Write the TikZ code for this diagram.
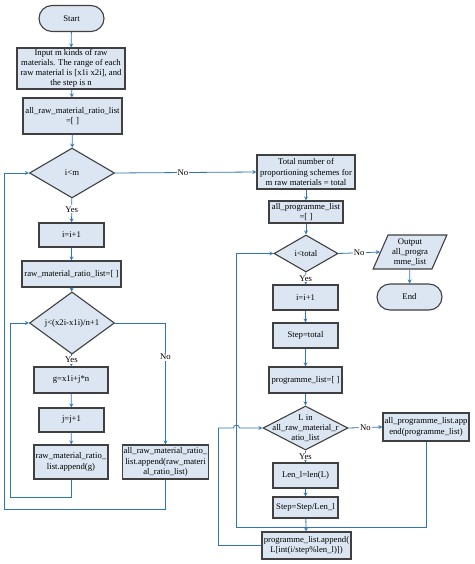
\documentclass[tikz,border=0pt]{standalone}
\usepackage{fontspec}
\setmainfont{Liberation Serif}
\usepackage{xcolor}
\usepackage{tikz}
\usetikzlibrary{shapes,arrows,positioning}

\definecolor{boxfill}{HTML}{DCE6F2}
\definecolor{boxline}{HTML}{404040}
\definecolor{flow}{HTML}{2E75B6}

% text that may stick out of its diamond
\newcommand{\wide}[1]{\makebox[0pt]{\smash{\raisebox{-2.8pt}{\begin{tabular}{@{}c@{}}#1\end{tabular}}}}}

\begin{document}
\begin{tikzpicture}[
    x=1pt, y=-1pt,
    font=\fontsize{8.7}{10.2}\selectfont,
    box/.style={rectangle, draw=boxline, fill=boxfill, line width=1.1pt, align=center, inner sep=1pt},
    terminal/.style={box, rounded corners=13pt},
    decision/.style={diamond, draw=boxline, fill=boxfill, line width=1.1pt, align=center, inner sep=0pt},
    io/.style={trapezium, trapezium left angle=66, trapezium right angle=114, trapezium stretches=true, draw=boxline, fill=boxfill, line width=1.1pt, align=center, inner sep=0pt},
    arrow/.style={->, >=stealth, draw=flow, line width=0.8pt},
    lbl/.style={fill=white, inner sep=1pt}
]
    \useasboundingbox (0,0) rectangle (474,564);

    % left part
    \node[terminal, minimum width=65pt, minimum height=26pt] (start) at (71.5,18.5) {Start};
    \node[box, minimum width=108pt, minimum height=41pt] (input) at (71,68.5) {Input m kinds of raw\\materials. The range of each\\raw material is [x1i x2i], and\\the step is n};
    \node[box, minimum width=99pt, minimum height=36pt] (allraw) at (72.5,116) {all\_raw\_material\_ratio\_list\\=[ ]};
    \node[decision, minimum width=85pt, minimum height=50pt] (condm) at (72,173) {i<m};
    \node[box, minimum width=65pt, minimum height=24pt] (inci) at (71.5,235) {i=i+1};
    \node[box, minimum width=99pt, minimum height=26pt] (rawlist) at (71.5,274) {raw\_material\_ratio\_list=[ ]};
    \node[decision, minimum width=85pt, minimum height=50pt] (condj) at (72,323) {j<(x2i-x1i)/n+1};
    \node[box, minimum width=74pt, minimum height=26pt] (gval) at (71,380) {g=x1i+j*n};
    \node[box, minimum width=65pt, minimum height=24pt] (incj) at (71.5,420) {j=j+1};
    \node[box, minimum width=74pt, minimum height=34pt] (appendg) at (71,462) {raw\_material\_ratio\_\\list.append(g)};
    \node[box, minimum width=85pt, minimum height=34pt] (allappend) at (165.5,462) {all\_raw\_material\_ratio\_\\list.append(raw\_materi\\al\_ratio\_list)};

    % right part
    \node[box, minimum width=98pt, minimum height=34pt] (total) at (306,172) {Total number of\\proportioning schemes for\\m raw materials = total};
    \node[box, minimum width=74pt, minimum height=22pt] (allprog) at (306,212) {all\_programme\_list\\=[ ]};
    \node[decision, minimum width=64pt, minimum height=37pt] (condt) at (306,253.5) {i<total};
    \node[io, minimum width=74pt, minimum height=34pt] (output) at (410,252) {Output\\all\_progra\\mme\_list};
    \node[terminal, minimum width=65pt, minimum height=26pt] (end) at (409.5,297) {End};
    \node[box, minimum width=65pt, minimum height=25pt] (incii) at (305.5,297.5) {i=i+1};
    \node[box, minimum width=65pt, minimum height=25pt] (steptotal) at (305.5,335.5) {Step=total};
    \node[box, minimum width=73pt, minimum height=26pt] (proglist) at (305.5,380) {programme\_list=[ ]};
    \node[decision, minimum width=85pt, minimum height=44pt] (condL) at (305.5,428) {\wide{L in\\all\_raw\_material\_r\\atio\_list}};
    \node[box, minimum width=86pt, minimum height=28pt] (allprogappend) at (426,427) {all\_programme\_list.app\\end(programme\_list)};
    \node[box, minimum width=65pt, minimum height=25pt] (lenl) at (305.5,475.5) {Len\_l=len(L)};
    \node[box, minimum width=65pt, minimum height=21pt] (stepdiv) at (305.5,507.5) {Step=Step/Len\_l};
    \node[box, minimum width=89pt, minimum height=27pt] (progappend) at (306.5,545.5) {programme\_list.append(\\L[int(i/step\%len\_l)])};

    \draw[arrow] (start) -- (input);
    \draw[arrow] (input) -- (allraw);
    \draw[arrow] (allraw) -- (condm);
    \draw[arrow] (condm) -- node[lbl, pos=0.45] {Yes} (inci);
    \draw[arrow] (inci) -- (rawlist);
    \draw[arrow] (rawlist) -- (condj);
    \draw[arrow] (condj) -- node[lbl, pos=0.45] {Yes} (gval);
    \draw[arrow] (gval) -- (incj);
    \draw[arrow] (incj) -- (appendg);
    \draw[arrow] (appendg.south) -- ++(0,18) -| ([xshift=-18.5pt]condj.west) -- (condj.west);
    \draw[arrow] (condj.east) -| node[lbl, pos=0.64] {No} (allappend.north);
    \draw[arrow] (allappend.south) -- ++(0,30) -| ([xshift=-24.5pt]condm.west) -- (condm.west);
    \draw[arrow] (condm.east) -- node[lbl, pos=0.48] {No} (total.west);

    \draw[arrow] (total) -- (allprog);
    \draw[arrow] (allprog) -- (condt);
    \draw[arrow] (condt.east) -- node[lbl] {No} (output.west);
    \draw[arrow] (output) -- (end);
    \draw[arrow] (condt) -- node[lbl, pos=0.5] {Yes} (incii);
    \draw[arrow] (incii) -- (steptotal);
    \draw[arrow] (steptotal) -- (proglist);
    \draw[arrow] (proglist) -- (condL);
    \draw[arrow] (condL.east) -- node[lbl] {No} (allprogappend.west);
    \draw[arrow] (condL) -- node[lbl, pos=0.5] {Yes} (lenl);
    \draw[arrow] (lenl) -- (stepdiv);
    \draw[arrow] (allprogappend.south) -- ++(0,86) -| ([xshift=-37pt]condt.west) -- (condt.west);
    \draw[arrow] (stepdiv) -- (progappend);
    \draw[arrow] (progappend.west) -| ([xshift=-44pt]condL.west) -- ++(15,0) arc (180:0:3pt) -- (condL.west);
\end{tikzpicture}
\end{document}
